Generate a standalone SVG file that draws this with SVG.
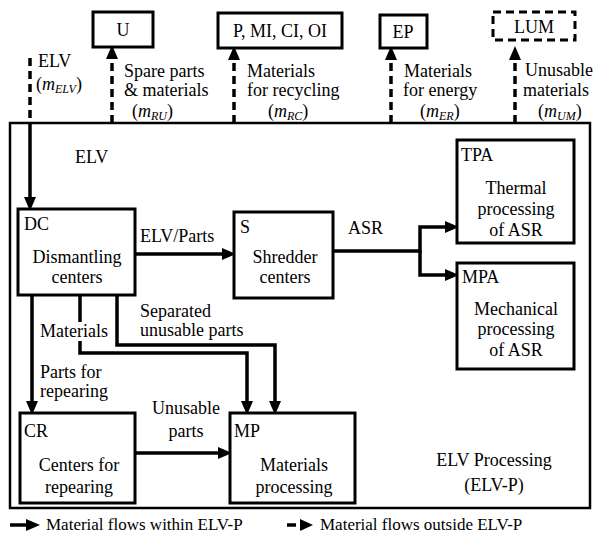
<svg xmlns="http://www.w3.org/2000/svg" width="598" height="534" viewBox="0 0 598 534" font-family="Liberation Serif, DejaVu Serif, serif">
<style>
text{font-family:"Liberation Serif","DejaVu Serif",serif;font-size:18px;fill:#000}
.c{text-anchor:middle}
.box{fill:#fff;stroke:#000;stroke-width:3}
.flow{fill:none;stroke:#000;stroke-width:3.5}
.dash{fill:none;stroke:#000;stroke-width:3.5;stroke-dasharray:8 5}
.it{font-style:italic}
.sub{font-style:italic;font-size:12px}
.lg{font-size:17px}
</style>
<defs>
<marker id="ah" markerUnits="userSpaceOnUse" markerWidth="14" markerHeight="14" viewBox="0 0 14 14" refX="6" refY="7" orient="auto">
<path d="M0,1 L14,7 L0,13 z" fill="#000"/>
</marker>
</defs>
<rect x="0" y="0" width="598" height="534" fill="#fff"/>

<g id="elvp">
<rect x="10" y="123" width="580" height="385" fill="none" stroke="#000" stroke-width="2.5"/>
<text x="75" y="163">ELV</text>
<text x="494" y="466" class="c">ELV Processing</text>
<text x="494" y="491" class="c">(ELV-P)</text>
</g>

<g id="connectors">
<path class="dash" d="M30,58 V123"/>
<path class="flow" d="M30,123 V203" marker-end="url(#ah)"/>
<path class="dash" d="M112,123 V53" marker-end="url(#ah)"/>
<path class="dash" d="M234,123 V54" marker-end="url(#ah)"/>
<path class="dash" d="M391,123 V54" marker-end="url(#ah)"/>
<path class="dash" d="M515,123 V54" marker-end="url(#ah)"/>
<path class="flow" d="M135,254 H228" marker-end="url(#ah)"/>
<path class="flow" d="M333,251 H420 V227 H451" marker-end="url(#ah)"/>
<path class="flow" d="M420,251 V275 H451" marker-end="url(#ah)"/>
<path class="flow" d="M32,295 V407" marker-end="url(#ah)"/>
<path class="flow" d="M80,295 V353 H247 V407" marker-end="url(#ah)"/>
<path class="flow" d="M117,295 V345 H275 V407" marker-end="url(#ah)"/>
<path class="flow" d="M135,453 H224" marker-end="url(#ah)"/>
</g>

<g id="labels">
<text x="38" y="67">ELV</text>
<text x="36" y="90">(<tspan class="it">m</tspan><tspan class="sub" dy="3">ELV</tspan><tspan dy="-3">)</tspan></text>
<text x="124" y="77">Spare parts</text>
<text x="124" y="96">&amp; materials</text>
<text x="132" y="117">(<tspan class="it">m</tspan><tspan class="sub" dy="3">RU</tspan><tspan dy="-3">)</tspan></text>
<text x="247" y="77">Materials</text>
<text x="247" y="96">for recycling</text>
<text x="268" y="117">(<tspan class="it">m</tspan><tspan class="sub" dy="3">RC</tspan><tspan dy="-3">)</tspan></text>
<text x="404" y="77">Materials</text>
<text x="403" y="96">for energy</text>
<text x="420" y="117">(<tspan class="it">m</tspan><tspan class="sub" dy="3">ER</tspan><tspan dy="-3">)</tspan></text>
<text x="525" y="76">Unusable</text>
<text x="523" y="96">materials</text>
<text x="538" y="117">(<tspan class="it">m</tspan><tspan class="sub" dy="3">UM</tspan><tspan dy="-3">)</tspan></text>
<text x="140" y="242">ELV/Parts</text>
<text x="348" y="234">ASR</text>
<text x="140" y="317">Separated</text>
<text x="140" y="336">unusable parts</text>
<rect x="38" y="322" width="72" height="19" fill="#fff"/>
<text x="40" y="337">Materials</text>
<text x="40" y="378">Parts for</text>
<text x="40" y="397">repearing</text>
<text x="186" y="414" class="c">Unusable</text>
<text x="186" y="437" class="c">parts</text>
</g>

<g id="U"><rect class="box" x="93" y="12" width="60" height="35"/><text x="123" y="36" class="c">U</text></g>
<g id="PMICIOI"><rect class="box" x="218" y="13" width="124" height="35"/><text x="280" y="37" class="c">P, MI, CI, OI</text></g>
<g id="EP"><rect class="box" x="380" y="15" width="47" height="33"/><text x="403" y="38" class="c">EP</text></g>
<g id="LUM"><rect x="493" y="12" width="82" height="28" fill="#fff" stroke="#000" stroke-width="3" stroke-dasharray="8 5"/><text x="534" y="33" class="c">LUM</text></g>

<g id="DC"><rect class="box" x="18" y="209" width="117" height="86"/><text x="24" y="230">DC</text><text x="77" y="263" class="c">Dismantling</text><text x="77" y="283" class="c">centers</text></g>
<g id="S"><rect class="box" x="234" y="212" width="99" height="86"/><text x="240" y="233">S</text><text x="285" y="263" class="c">Shredder</text><text x="285" y="283" class="c">centers</text></g>
<g id="TPA"><rect class="box" x="457" y="140" width="117" height="103"/><text x="461" y="161">TPA</text><text x="516" y="194" class="c">Thermal</text><text x="516" y="215" class="c">processing</text><text x="516" y="236" class="c">of ASR</text></g>
<g id="MPA"><rect class="box" x="457" y="263" width="117" height="106"/><text x="462" y="283">MPA</text><text x="516" y="315" class="c">Mechanical</text><text x="516" y="335" class="c">processing</text><text x="516" y="356" class="c">of ASR</text></g>
<g id="CR"><rect class="box" x="20" y="413" width="115" height="90"/><text x="24" y="437">CR</text><text x="79" y="471" class="c">Centers for</text><text x="79" y="493" class="c">repearing</text></g>
<g id="MP"><rect class="box" x="230" y="413" width="125" height="90"/><text x="234" y="437">MP</text><text x="294" y="471" class="c">Materials</text><text x="294" y="493" class="c">processing</text></g>

<g id="legend">
<path class="flow" d="M10,525 H32" marker-end="url(#ah)"/>
<text x="46" y="530" class="lg">Material flows within ELV-P</text>
<path class="flow" d="M287,525 H296"/>
<path d="M300,519 L313,525 L300,531 z" fill="#000"/>
<text x="320" y="530" class="lg">Material flows outside ELV-P</text>
</g>
</svg>
